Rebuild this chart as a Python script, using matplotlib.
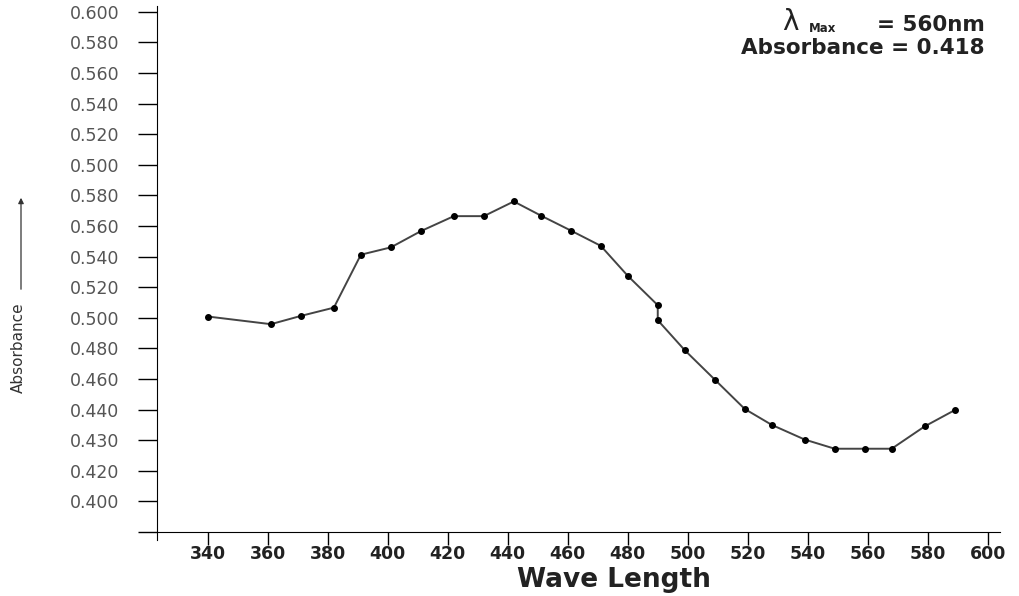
import matplotlib
matplotlib.use("Agg")
import matplotlib.pyplot as plt

# wave length (nm) of each measured point
wave = [340, 361, 371, 382, 391, 401, 411, 422, 432, 442, 451, 461, 471,
        480, 490, 490, 499, 509, 519, 528, 539, 549, 559, 568, 579, 589]
# vertical position of each point, in tick rows (row 0 = x axis)
row = [7.04, 6.79, 7.06, 7.33, 9.06, 9.30, 9.83, 10.32, 10.32, 10.80,
       10.34, 9.85, 9.35, 8.37, 7.41, 6.92, 5.94, 4.98, 4.02, 3.50,
       3.02, 2.72, 2.72, 2.72, 3.45, 3.98]

# tick labels as printed on the axis, from row 1 upward
y_labels = ["0.400", "0.420", "0.430", "0.440", "0.460", "0.480", "0.500",
            "0.520", "0.540", "0.560", "0.580", "0.500", "0.520", "0.540",
            "0.560", "0.580", "0.600"]
x_ticks = [340, 360, 380, 400, 420, 440, 460, 480, 500, 520, 540, 560, 580, 600]


def main():
    fig = plt.figure(figsize=(10.19, 5.96), dpi=100)
    ax = fig.add_axes([0.154, 0.0946, 0.827, 0.896])

    ax.plot(wave, row, color="#444444", linewidth=1.4, marker="o",
            markersize=4, markerfacecolor="black", markeredgecolor="black")

    ax.set_xlim(323, 604)
    ax.set_ylim(-0.25, 17.2)
    ax.spines["top"].set_visible(False)
    ax.spines["right"].set_visible(False)
    ax.spines["bottom"].set_position(("data", 0))

    ax.set_yticks(range(0, len(y_labels) + 1))
    ax.set_yticklabels([""] + y_labels)
    ax.set_xticks(x_ticks)
    ax.tick_params(axis="y", direction="out", length=14, width=1,
                   pad=13, labelsize=12.5, labelcolor="#555555")
    ax.tick_params(axis="x", direction="out", length=9, width=1,
                   pad=0.5, labelsize=12.5, labelcolor="#222222")
    for lab in ax.get_xticklabels():
        lab.set_fontweight("bold")

    fig.text(614 / 1019, 0.027, "Wave Length", ha="center", va="center",
             fontsize=19, fontweight="bold", color="#222222")
    fig.text(18 / 1019, 0.416, "Absorbance", rotation=90, ha="center",
             va="center", fontsize=11,
             family=["Liberation Sans Narrow", "DejaVu Sans"], color="#333333")
    fig.patches.append(matplotlib.patches.FancyArrowPatch(
        (21 / 1019, 1 - 292 / 596), (21 / 1019, 1 - 195 / 596),
        transform=fig.transFigure, arrowstyle="-|>", mutation_scale=8,
        linewidth=0.9, color="#333333"))

    fig.text(985 / 1019, 1 - 25 / 596, "= 560nm", ha="right", va="center",
             fontsize=15.5, fontweight="bold", color="#222222")
    fig.text(836 / 1019, 1 - 28 / 596, "Max", ha="right", va="center",
             fontsize=8.5, fontweight="bold", color="#222222")
    fig.text(799 / 1019, 1 - 22 / 596, "λ", ha="right", va="center",
             fontsize=20, color="#222222")
    fig.text(985 / 1019, 1 - 48 / 596, "Absorbance = 0.418", ha="right",
             va="center", fontsize=15.5, fontweight="bold", color="#222222")

    fig.savefig("out.png", dpi=100)


if __name__ == '__main__':
    main()
